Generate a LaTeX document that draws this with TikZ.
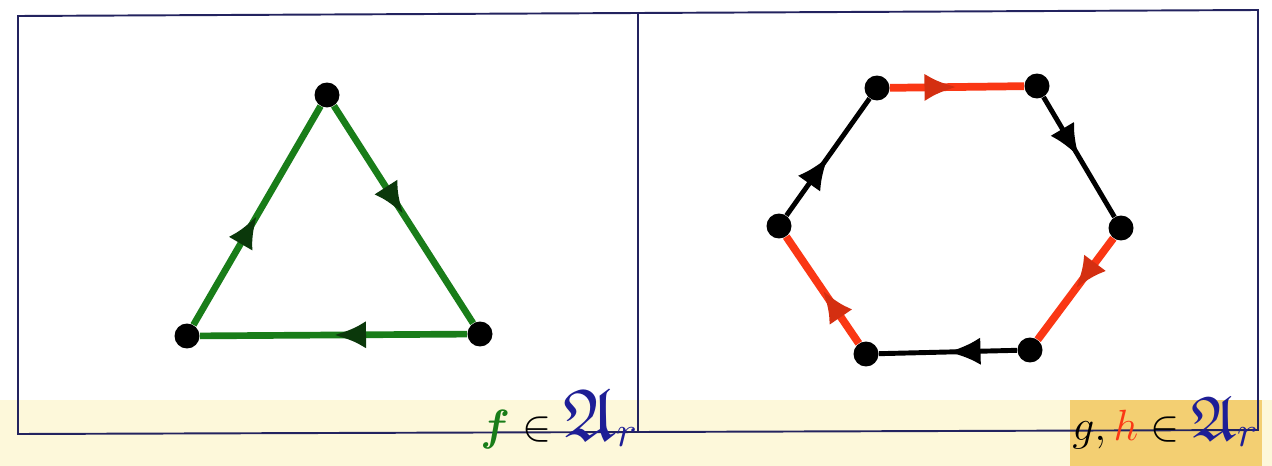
\documentclass[tikz,border=0pt]{standalone}
\usepackage{amsmath,amssymb}
\usepackage{tikz}
\usetikzlibrary{arrows.meta,decorations.markings}

\definecolor{framecol}{RGB}{35,35,95}
\definecolor{edgegreen}{RGB}{25,125,25}
\definecolor{edgered}{RGB}{250,55,20}
\definecolor{labelblue}{RGB}{30,30,150}
\definecolor{paperband}{RGB}{253,248,218}
\definecolor{paperhl}{RGB}{240,190,70}

\tikzset{
  dot/.style={circle,fill=black,inner sep=0pt,minimum size=0.5cm},
  midarrow/.style={postaction={decorate},decoration={markings,mark=at position 0.5 with {\arrow[#1]{Latex[length=6.5mm,width=5.5mm]}}}},
  greenedge/.style={draw=edgegreen,line width=3.8pt,midarrow={edgegreen!45!black}},
  rededge/.style={draw=edgered,line width=4.4pt,midarrow={edgered!85!black}},
  blackedge/.style={draw=black,line width=2.8pt,midarrow=black},
  framestyle/.style={draw=framecol,line width=1.1pt}
}

\begin{document}
\begin{tikzpicture}[x=0.02cm,y=-0.02cm]
\useasboundingbox (0,0) rectangle (1272,466);
\fill[white] (0,0) rectangle (1272,466);
% paper band at the bottom
\fill[paperband] (0,400) rectangle (1272,466);
\fill[paperhl,opacity=0.7] (1070,400) rectangle (1262,466);

% frame
\coordinate (f_tl) at (18,16);
\coordinate (f_tm) at (638,12);
\coordinate (f_tr) at (1258,10);
\coordinate (f_bl) at (18,434);
\coordinate (f_bm) at (638,431);
\coordinate (f_br) at (1258,430);
\draw[framestyle] (f_tl)--(f_tr)--(f_br)--(f_bl)--cycle;
\draw[framestyle] (f_tm)--(f_bm);

% triangle
\node[dot] (t_top) at (327,95) {};
\node[dot] (t_br) at (480,334) {};
\node[dot] (t_bl) at (187,336) {};
\draw[greenedge] (t_top)--(t_br);
\draw[greenedge] (t_br)--(t_bl);
\draw[greenedge] (t_bl)--(t_top);

% hexagon
\node[dot] (h_tl) at (877,88) {};
\node[dot] (h_tr) at (1037,86) {};
\node[dot] (h_r) at (1121,228) {};
\node[dot] (h_br) at (1030,350) {};
\node[dot] (h_bl) at (866,354) {};
\node[dot] (h_l) at (779,226) {};
\draw[rededge] (h_tl)--(h_tr);
\draw[blackedge] (h_tr)--(h_r);
\draw[rededge] (h_r)--(h_br);
\draw[blackedge] (h_br)--(h_bl);
\draw[rededge] (h_bl)--(h_l);
\draw[blackedge] (h_l)--(h_tl);

% labels
\node[font=\fontsize{42}{42}\selectfont,inner sep=0pt,anchor=base west] (lab_f) at (480,440) {$\color{edgegreen}\boldsymbol{f}\color{black}\in\color{labelblue}\mathfrak{A}_r$};
\node[font=\fontsize{36}{36}\selectfont,inner sep=0pt,anchor=base west] (lab_gh) at (1072,440) {$g,\color{edgered}h\color{black}\in\color{labelblue}\mathfrak{A}_r$};
\end{tikzpicture}
\end{document}
